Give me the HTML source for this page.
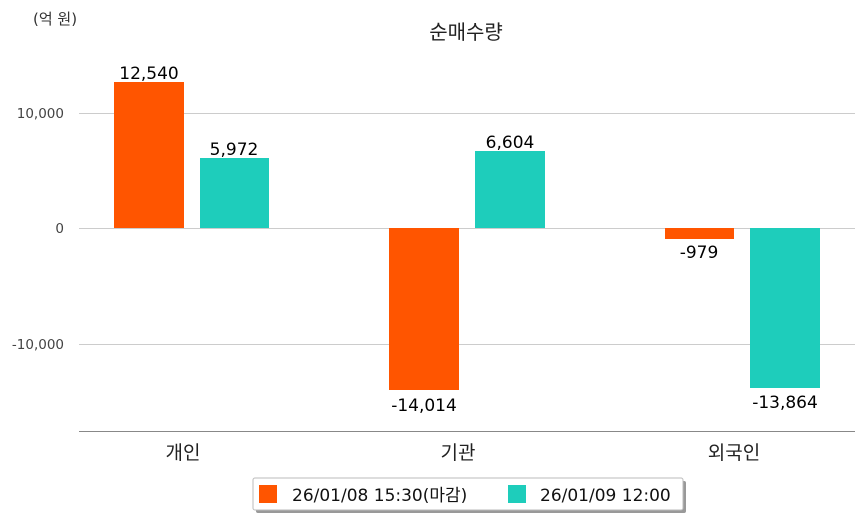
<!DOCTYPE html>
<html><head><meta charset="utf-8"><style>
body{margin:0;background:#fff;}
svg{display:block;font-family:"DejaVu Sans","Noto Sans CJK KR",sans-serif;}
</style></head><body>
<svg width="863" height="520" xmlns="http://www.w3.org/2000/svg">
<rect width="863" height="520" fill="#fff"/>
<text x="33" y="24" font-size="15" fill="#333">(억 원)</text>
<text x="466" y="39" font-size="20" fill="#222" text-anchor="middle">순매수량</text>
<g stroke="#ccc" stroke-width="1">
<line x1="79" y1="113.5" x2="855" y2="113.5"/>
<line x1="79" y1="228.5" x2="855" y2="228.5"/>
<line x1="79" y1="344.5" x2="855" y2="344.5"/>
</g>
<line x1="79" y1="431.5" x2="855" y2="431.5" stroke="#888" stroke-width="1"/>
<g font-size="13.5" fill="#444" text-anchor="end">
<text x="64" y="118">10,000</text>
<text x="64" y="233">0</text>
<text x="64" y="349">-10,000</text>
</g>
<g fill="#ff5500">
<rect x="114" y="82" width="70" height="146"/>
<rect x="389" y="228" width="70" height="162"/>
<rect x="665" y="228" width="69" height="11"/>
</g>
<g fill="#1ecdbb">
<rect x="200" y="158" width="69" height="70"/>
<rect x="475" y="151" width="70" height="77"/>
<rect x="750" y="228" width="70" height="160"/>
</g>
<g font-size="17" fill="#000" text-anchor="middle">
<text x="149" y="79">12,540</text>
<text x="234" y="155">5,972</text>
<text x="424" y="411">-14,014</text>
<text x="510" y="148">6,604</text>
<text x="699" y="258">-979</text>
<text x="785" y="408">-13,864</text>
</g>
<g font-size="19" fill="#222" text-anchor="middle">
<text x="183" y="459">개인</text>
<text x="458" y="459">기관</text>
<text x="734" y="459">외국인</text>
</g>
<rect x="256" y="481" width="430" height="32" rx="2" fill="#999"/>
<rect x="253" y="478" width="430" height="32" rx="2" fill="#fff" stroke="#bbb"/>
<rect x="259" y="485" width="18" height="18" fill="#ff5500"/>
<text x="292" y="501" font-size="17" fill="#111">26/01/08 15:30(마감)</text>
<rect x="508" y="485" width="18" height="18" fill="#1ecdbb"/>
<text x="540" y="501" font-size="17" fill="#111">26/01/09 12:00</text>
</svg>
</body></html>
